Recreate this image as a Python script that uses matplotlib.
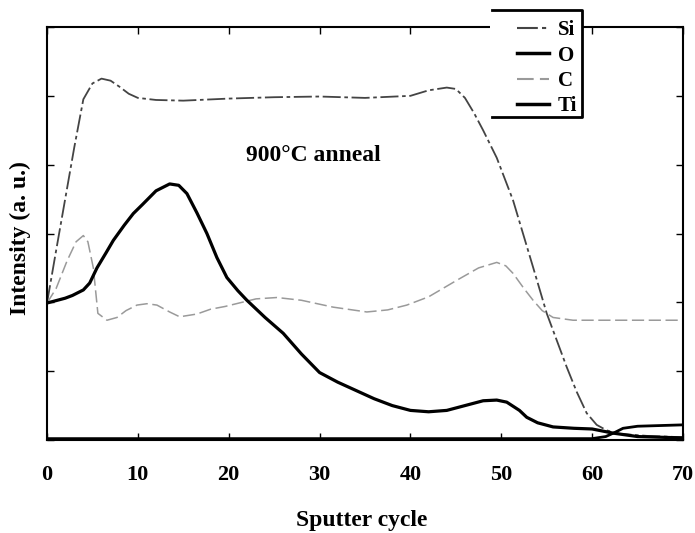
import numpy as np
import matplotlib
matplotlib.use("Agg")
import matplotlib.pyplot as plt
from matplotlib.lines import Line2D
from matplotlib.patches import Rectangle

# values (intensity in tick units)
si_x = [0, 1, 2, 3, 4, 5, 6, 7, 8, 9, 10, 12, 15, 20, 25, 30, 35, 40, 42, 44, 45, 46,
        47, 48, 49.5, 51.3, 53.5, 55, 57.2, 58.3, 59.4, 60.5, 61.6, 63, 66, 70]
si_y = [1.99, 2.75, 3.5, 4.25, 4.95, 5.18, 5.25, 5.22, 5.13, 5.03, 4.97, 4.94, 4.93, 4.96,
        4.98, 4.99, 4.97, 5.0, 5.08, 5.12, 5.1, 4.97, 4.75, 4.5, 4.1, 3.48, 2.51, 1.84,
        1.06, 0.7, 0.39, 0.22, 0.14, 0.09, 0.06, 0.04]

ti_x = [0, 2, 2.8, 4, 4.7, 5.5, 6.5, 7.3, 8.5, 9.5, 10.5, 12, 13.5, 14.5, 15.4, 16.5, 17.6,
        18.7, 19.8, 21, 22, 24, 26, 28, 30, 32, 34, 36, 38, 40, 42, 44, 46, 48, 49.5, 50.6,
        52, 52.8, 54, 55.7, 58, 60, 62.3, 65, 70]
ti_y = [1.99, 2.06, 2.1, 2.18, 2.28, 2.5, 2.72, 2.9, 3.12, 3.29, 3.42, 3.62, 3.72, 3.7,
        3.58, 3.3, 3.0, 2.65, 2.36, 2.17, 2.03, 1.78, 1.55, 1.25, 0.98, 0.84, 0.72, 0.6,
        0.5, 0.43, 0.41, 0.43, 0.5, 0.57, 0.58, 0.55, 0.43, 0.33, 0.25, 0.19, 0.17, 0.16,
        0.1, 0.05, 0.03]

o_x = [0, 20, 40, 60, 61.5, 62.5, 63.4, 65, 70]
o_y = [0.02, 0.02, 0.02, 0.02, 0.05, 0.11, 0.17, 0.2, 0.22]

c_x = [0, 1, 2.2, 3.2, 4, 4.5, 5.1, 5.6, 6.6, 7.7, 8.7, 9.9, 11, 12.1, 13.5, 14.6, 16.5,
       18, 19.6, 23, 25.3, 28, 31.5, 35.2, 37.5, 39.6, 42, 45.1, 47.5, 49.5, 50.5, 51.3,
       52.5, 53.5, 54.5, 55.7, 57.9, 70]
c_y = [1.99, 2.2, 2.6, 2.88, 2.97, 2.88, 2.5, 1.84, 1.74, 1.78, 1.88, 1.96, 1.98, 1.96,
       1.86, 1.79, 1.83, 1.9, 1.94, 2.05, 2.07, 2.03, 1.93, 1.86, 1.89, 1.96, 2.08, 2.32,
       2.5, 2.58, 2.53, 2.42, 2.2, 2.03, 1.88, 1.78, 1.74, 1.74]

x_ticks = [0, 10, 20, 30, 40, 50, 60, 70]
x_labels = ["0", "10", "20", "30", "40", "50", "60", "70"]

serif = ["Liberation Serif", "DejaVu Serif"]

W, H = 695, 533
fig = plt.figure(figsize=(W / 100, H / 100), dpi=100)
ax = fig.add_axes([47 / W, (H - 440) / H, 636 / W, 413 / H])

ax.plot(si_x, si_y, color="#444444", lw=1.3, ls=(0, (10, 2, 2, 2)), label="Si")
ax.plot(o_x, o_y, color="black", lw=2.0, label="O")
ax.plot(c_x, c_y, color="#9a9a9a", lw=1.1, ls=(0, (8, 3)), label="C")
ax.plot(ti_x, ti_y, color="black", lw=2.3, label="Ti")

ax.set_xlim(0, 70)
ax.set_ylim(0, 6)
ax.set_xticks(x_ticks)
ax.set_xticklabels(x_labels, fontfamily=serif, fontweight="bold", fontsize=16)
ax.set_yticks(np.arange(0, 7))
ax.set_yticklabels([])
ax.tick_params(direction="in", top=True, right=True, length=5, width=1, pad=18)
for s in ax.spines.values():
    s.set_linewidth(1.5)

ax.set_xlabel("Sputter cycle", fontfamily=serif, fontweight="bold", fontsize=17)
ax.xaxis.set_label_coords(0.495, -0.194)
ax.xaxis.label.set_va("center")
ax.set_ylabel("Intensity (a. u.)", fontfamily=serif, fontweight="bold", fontsize=17)
ax.yaxis.set_label_coords(-0.042, 0.49)
ax.yaxis.label.set_va("center")

ax.text(29.3, 4.13, "900°C anneal", fontfamily=serif, fontweight="bold", fontsize=17,
        ha="center", va="center")

# legend sits partly above the frame, white box open on its left side
fig.add_artist(Rectangle((490 / W, 1 - 117 / H), 92 / W, 107 / H, facecolor="white",
                         edgecolor="none", transform=fig.transFigure, zorder=3))
box_x = [492 / W, 582 / W, 582 / W, 492 / W]
box_y = [1 - 10 / H, 1 - 10 / H, 1 - 117 / H, 1 - 117 / H]
fig.add_artist(Line2D(box_x, box_y, color="black", lw=2, transform=fig.transFigure,
                      zorder=4))
leg = fig.legend(loc="upper left", bbox_to_anchor=(507 / W, 1 - 10 / H),
                 bbox_transform=fig.transFigure, frameon=False, borderpad=0,
                 handlelength=1.5, handletextpad=0.45, labelspacing=0.25,
                 prop={"family": serif, "weight": "bold", "size": 15})
leg.set_zorder(5)
for ln in leg.get_lines():
    ln.set_linewidth(2.5 if ln.get_color() == "black" else 1.5)

fig.savefig("out.png", dpi=100, facecolor="white")
